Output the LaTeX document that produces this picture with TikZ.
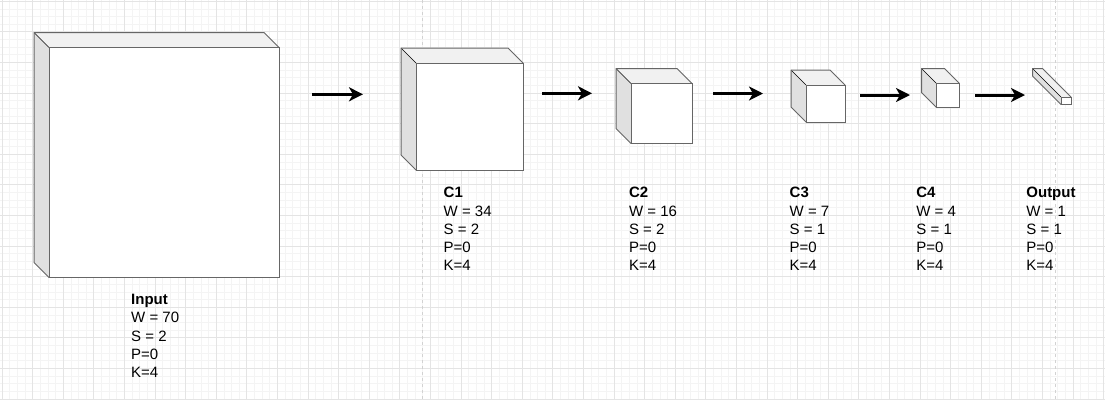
\documentclass[tikz,border=0pt]{standalone}
\usepackage{fontspec}
\setmainfont{Liberation Sans}
\usetikzlibrary{arrows.meta}
\definecolor{gridminor}{HTML}{F4F4F4}
\definecolor{gridmajor}{HTML}{E4E4E4}
\definecolor{pageline}{HTML}{D2D2D2}
\definecolor{cubeline}{HTML}{666666}
\definecolor{cubetop}{HTML}{F1F1F1}
\definecolor{cubeside}{HTML}{E0E0E0}
\tikzset{
  minorline/.style={draw=gridminor, line width=0.7pt},
  majorline/.style={draw=gridmajor, line width=1pt},
  pageborder/.style={draw=pageline, line width=1pt, dash pattern=on 3pt off 3pt},
  facetop/.style={fill=cubetop},
  faceside/.style={fill=cubeside},
  cubeedge/.style={draw=cubeline, line width=1pt, line join=round},
  backedge/.style={draw=black, line width=0.6pt},
  frontface/.style={draw=cubeline, fill=white, line width=1pt, inner sep=0pt, outer sep=0pt, anchor=north west},
  flowarrow/.style={draw=black, line width=3pt, -{Stealth[length=14pt,width=14pt,inset=4pt]}},
  infotitle/.style={font=\fontsize{15}{18}\selectfont\bfseries, anchor=base west, inner sep=0pt},
  infoline/.style={font=\fontsize{15}{18}\selectfont, anchor=base west, inner sep=0pt},
}
% name, x1, y1, x2, y2, depth
\newcommand\drawcube[6]{%
  \fill[faceside] (#2,#3) -- (#2+#6,#3+#6) -- (#2+#6,#5) -- (#2,#5-#6) -- cycle;
  \fill[facetop] (#2,#3) -- (#4-#6,#3) -- (#4,#3+#6) -- (#2+#6,#3+#6) -- cycle;
  \draw[backedge] (#2,#3) -- (#2+#6,#3+#6);
  \draw[cubeedge] (#2+#6,#5) -- (#2,#5-#6) -- (#2,#3) -- (#4-#6,#3) -- (#4,#3+#6);
  \node[frontface, minimum width={(#4-#2-#6)*1pt}, minimum height={(#5-#3-#6)*1pt}] (#1) at (#2+#6,#3+#6) {};
}
% name, x, baseline y, title, W, S, P, K
\newcommand\infoblock[8]{%
  \node[infotitle] (#1t) at (#2,#3) {#4};
  \node[infoline] (#1w) at (#2,#3+18.3) {W = #5};
  \node[infoline] (#1s) at (#2,#3+36.6) {S = #6};
  \node[infoline] (#1p) at (#2,#3+54.9) {P=#7};
  \node[infoline] (#1k) at (#2,#3+73.2) {K=#8};
}
\begin{document}
\begin{tikzpicture}[x=1pt,y=-1pt]
\useasboundingbox (0,0) rectangle (1105,400);
\fill[white] (0,0) rectangle (1105,400);
% grid
\foreach \i in {0,...,145} { \draw[minorline] ({2+\i*7.65},0) -- ({2+\i*7.65},400); }
\foreach \j in {0,...,53} { \draw[minorline] (0,{1.2+\j*7.65}) -- (1105,{1.2+\j*7.65}); }
\foreach \i in {0,...,36} { \draw[majorline] ({2+\i*30.6},0) -- ({2+\i*30.6},400); }
\foreach \j in {0,...,13} { \draw[majorline] (0,{1.2+\j*30.6}) -- (1105,{1.2+\j*30.6}); }
\draw[pageborder] (422,0) -- (422,400);
\draw[pageborder] (1055,0) -- (1055,400);
% cubes
\drawcube{input}{34}{32.5}{279}{277.5}{15}
\drawcube{cA}{401}{48}{523.5}{170.5}{15.5}
\drawcube{cB}{616}{68.5}{692}{143.5}{15}
\drawcube{cC}{791}{70}{845}{122}{15}
\drawcube{cD}{921.5}{68.5}{959.5}{107.5}{15}
\drawcube{out}{1032.5}{68.5}{1071}{104.5}{28.5}
% arrows
\coordinate (a1s) at (312,94.3);  \coordinate (a1e) at (363,94.3);
\coordinate (a2s) at (542,93.3);  \coordinate (a2e) at (592,93.3);
\coordinate (a3s) at (713,93.5);  \coordinate (a3e) at (763,93.5);
\coordinate (a4s) at (860,95);    \coordinate (a4e) at (910,95);
\coordinate (a5s) at (975,95);    \coordinate (a5e) at (1025,95);
\draw[flowarrow] (a1s) -- (a1e);
\draw[flowarrow] (a2s) -- (a2e);
\draw[flowarrow] (a3s) -- (a3e);
\draw[flowarrow] (a4s) -- (a4e);
\draw[flowarrow] (a5s) -- (a5e);
% labels
\infoblock{li}{131}{304.4}{Input}{70}{2}{0}{4}
\infoblock{la}{443.5}{197.7}{C1}{34}{2}{0}{4}
\infoblock{lb}{628.8}{197.7}{C2}{16}{2}{0}{4}
\infoblock{lc}{789.5}{197.7}{C3}{7}{1}{0}{4}
\infoblock{ld}{916.2}{197.7}{C4}{4}{1}{0}{4}
\infoblock{lo}{1026.2}{197.7}{Output}{1}{1}{0}{4}
\end{tikzpicture}
\end{document}
